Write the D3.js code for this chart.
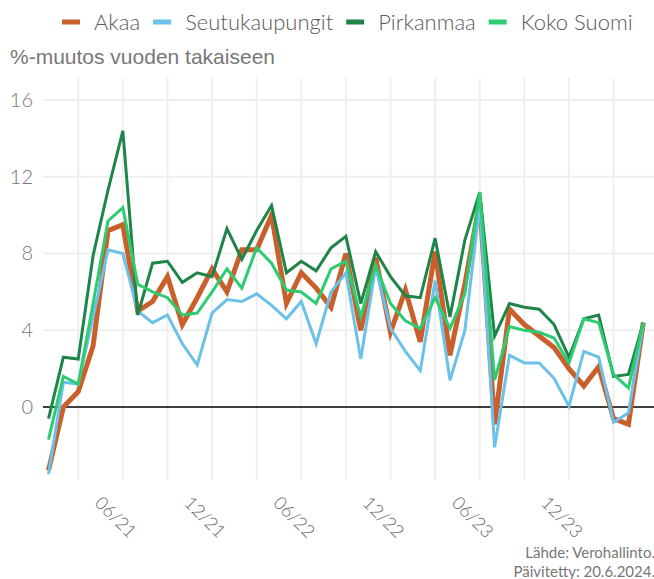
<!DOCTYPE html>
<html>
<head>
<meta charset="utf-8">
<script src="https://cdn.jsdelivr.net/npm/d3@7"></script>
<style>
	body { margin: 0; background: #fff; }
	svg { display: block; }
</style>
</head>
<body>
<svg id="chart" width="654" height="579"></svg>
<script>
'use strict';

var months = [
	'2021-01', '2021-02', '2021-03', '2021-04', '2021-05', '2021-06', '2021-07', '2021-08', '2021-09', '2021-10', '2021-11', '2021-12',
	'2022-01', '2022-02', '2022-03', '2022-04', '2022-05', '2022-06', '2022-07', '2022-08', '2022-09', '2022-10', '2022-11', '2022-12',
	'2023-01', '2023-02', '2023-03', '2023-04', '2023-05', '2023-06', '2023-07', '2023-08', '2023-09', '2023-10', '2023-11', '2023-12',
	'2024-01', '2024-02', '2024-03', '2024-04', '2024-05'
];

var akaa = [
	-3.3, 0.0, 0.8, 3.2, 9.2, 9.5, 5.0, 5.5, 6.8, 4.3, 5.7, 7.2,
	6.0, 8.2, 8.2, 10.0, 5.4, 7.0, 6.2, 5.2, 8.0, 4.0, 7.8, 3.9,
	6.1, 3.4, 8.1, 2.7, 6.4, 10.7, -0.9, 5.1, 4.3, 3.7, 3.1, 2.0,
	1.1, 2.1, -0.6, -0.9, 4.4
];

var seutukaupungit = [
	-3.5, 1.3, 1.2, 4.7, 8.2, 8.0, 5.0, 4.4, 4.8, 3.3, 2.2, 4.9,
	5.6, 5.5, 5.9, 5.3, 4.6, 5.5, 3.3, 6.0, 7.0, 2.5, 7.3, 4.1,
	2.9, 1.9, 6.6, 1.4, 4.0, 10.5, -2.1, 2.7, 2.3, 2.3, 1.5, 0.05,
	2.9, 2.6, -0.8, -0.3, 4.3
];

var pirkanmaa = [
	-0.6, 2.6, 2.5, 7.9, 11.3, 14.4, 4.8, 7.5, 7.6, 6.5, 7.0, 6.8,
	9.3, 7.7, 9.2, 10.5, 7.0, 7.6, 7.1, 8.3, 8.9, 5.4, 8.1, 6.8,
	5.8, 5.7, 8.8, 4.7, 8.7, 11.2, 3.7, 5.4, 5.2, 5.1, 4.3, 2.6,
	4.6, 4.8, 1.6, 1.7, 4.4
];

var kokoSuomi = [
	-1.7, 1.6, 1.2, 5.4, 9.7, 10.4, 6.4, 6.0, 5.7, 4.8, 4.9, 6.0,
	7.2, 6.2, 8.3, 7.5, 6.1, 6.0, 5.4, 7.2, 7.6, 4.7, 7.4, 5.4,
	4.5, 4.1, 5.7, 4.1, 5.9, 11.2, 1.4, 4.2, 4.0, 3.9, 3.6, 2.3,
	4.6, 4.4, 1.7, 1.0, 4.4
];

var seriesNames  = ['Akaa', 'Seutukaupungit', 'Pirkanmaa', 'Koko Suomi'];
var seriesValues = [akaa, seutukaupungit, pirkanmaa, kokoSuomi];
var seriesColors = ['#c95f2b', '#6cc1ea', '#1e8449', '#2ecc71'];
var seriesWidths = [5, 3, 3, 3];

var yTicks     = [0, 4, 8, 12, 16];
var gridMonths = months.filter(function (m) { return +m.slice(5) % 3 === 0; });
var tickMonths = months.filter(function (m) { return +m.slice(5) % 6 === 0; });

var svg = d3.select('#chart');

var plot = { left: 43, right: 654, top: 78, bottom: 480 };

var x = d3.scalePoint()
	.domain(months)
	.range([48.5, 643.3]);

var y = d3.scaleLinear()
	.domain([-3.8, 17.15])
	.range([plot.bottom, plot.top]);

// grid
var grid = svg.append('g').attr('class', 'grid');

grid.selectAll('.vgrid').data(gridMonths)
	.enter().append('line')
		.attr('class', 'vgrid')
		.attr('x1', function (d) { return x(d); })
		.attr('x2', function (d) { return x(d); })
		.attr('y1', plot.top)
		.attr('y2', plot.bottom)
		.attr('stroke', '#efefef')
		.attr('stroke-width', 2);

grid.selectAll('.hgrid').data(yTicks.filter(function (d) { return d !== 0; }))
	.enter().append('line')
		.attr('class', 'hgrid')
		.attr('x1', plot.left)
		.attr('x2', plot.right)
		.attr('y1', function (d) { return y(d); })
		.attr('y2', function (d) { return y(d); })
		.attr('stroke', '#efefef')
		.attr('stroke-width', 2);

// y axis labels
svg.append('g')
	.attr('transform', 'translate(33,0)')
	.call(d3.axisLeft(y).tickValues(yTicks).tickSize(0).tickPadding(0))
	.call(function (g) {
		g.select('.domain').remove();
		g.selectAll('text')
			.attr('fill', '#777')
			.style('font-family', 'Lato, sans-serif')
			.style('font-weight', 300)
			.style('font-size', '20px');
	});

// x axis labels
var fmt = function (m) { return m.slice(5) + '/' + m.slice(2, 4); };

svg.append('g').selectAll('text').data(tickMonths)
	.enter().append('text')
		.attr('transform', function (d) {
			return 'translate(' + (x(d) - 29) + ',' + (plot.bottom + 24) + ') rotate(45)';
		})
		.attr('fill', '#666')
		.style('font-family', 'Lato, sans-serif')
		.style('font-weight', 300)
		.style('font-size', '18px')
		.text(fmt);

// zero line
svg.append('line')
	.attr('x1', plot.left)
	.attr('x2', plot.right)
	.attr('y1', y(0))
	.attr('y2', y(0))
	.attr('stroke', '#000')
	.attr('stroke-width', 1.5);

// lines
var line = d3.line()
	.x(function (d, i) { return x(months[i]); })
	.y(function (d) { return y(d); });

svg.append('g').selectAll('path').data(seriesValues)
	.enter().append('path')
		.attr('d', line)
		.attr('fill', 'none')
		.attr('stroke', function (d, i) { return seriesColors[i]; })
		.attr('stroke-width', function (d, i) { return seriesWidths[i]; });

// legend
var legend = svg.append('g').attr('class', 'legend');
var lx = 62;

seriesNames.forEach(function (name, i) {
	var item = legend.append('g').attr('transform', 'translate(' + lx + ',0)');

	item.append('rect')
		.attr('x', 0)
		.attr('y', 19.5)
		.attr('width', 18)
		.attr('height', 5)
		.attr('fill', seriesColors[i]);

	var t = item.append('text')
		.attr('x', 32)
		.attr('y', 29.5)
		.attr('fill', '#5a5a5a')
		.style('font-family', 'Lato, sans-serif')
		.style('font-weight', 300)
		.style('font-size', '22px')
		.text(name);

	lx += 32 + t.node().getComputedTextLength() + 13;
});

// titles
svg.append('text')
	.attr('x', 10)
	.attr('y', 64)
	.attr('fill', '#777')
	.style('font-family', '"Liberation Sans", Arial, sans-serif')
	.style('font-size', '21px')
	.text('%-muutos vuoden takaiseen');

var credits = svg.append('g')
	.attr('fill', '#777')
	.style('font-family', 'Lato, sans-serif')
	.style('font-size', '15px')
	.attr('text-anchor', 'end');

credits.append('text').attr('x', 655).attr('y', 558).text('Lähde: Verohallinto.');
credits.append('text').attr('x', 655).attr('y', 577).text('Päivitetty: 20.6.2024.');
</script>
</body>
</html>
